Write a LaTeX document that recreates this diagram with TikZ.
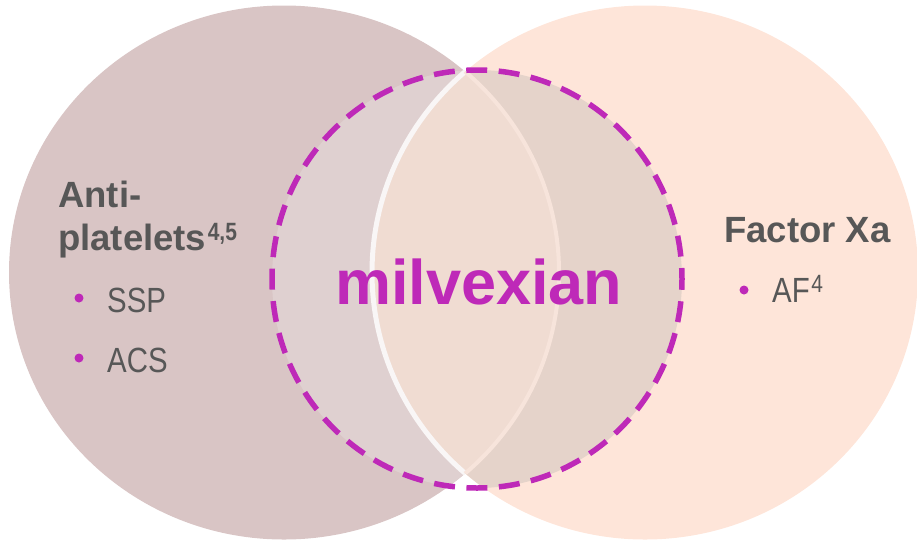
\documentclass[tikz,border=0pt]{standalone}
\usepackage{fontspec}
\setmainfont{Liberation Sans}
\newfontfamily\narrowsans[FakeStretch=0.84]{Liberation Sans}
\definecolor{leftfill}{HTML}{D9C5C5}
\definecolor{rightfill}{HTML}{FEE5D9}
\definecolor{lensfill}{HTML}{F0DCD2}
\definecolor{dashleft}{HTML}{DFD0D0}
\definecolor{dashright}{HTML}{E5D3CA}
\definecolor{lensedgeL}{HTML}{F9F6F6}
\definecolor{lensedgeR}{HTML}{F7E4DB}
\definecolor{magentaink}{RGB}{190,41,184}
\definecolor{textgray}{HTML}{575757}
\tikzset{
  head/.style={inner sep=0pt, anchor=base west, text=textgray,
    font=\fontsize{36.5}{36}\selectfont\bfseries},
  item/.style={inner sep=0pt, anchor=base west, text=textgray,
    font=\fontsize{35}{35}\selectfont\narrowsans},
  dot/.style={circle, fill=magentaink, inner sep=0pt, minimum size=9pt},
  drugname/.style={inner sep=0pt, anchor=base west, text=magentaink,
    font=\fontsize{63}{63}\selectfont\bfseries},
  dashring/.style={draw=magentaink, line width=5.5pt, dash pattern=on 21pt off 11.5pt, dash phase=10pt}
}
\newcommand{\supnum}[1]{\hspace{1.5pt}\raisebox{10pt}{\fontsize{25}{25}\selectfont\narrowsans #1}}
\begin{document}
\begin{tikzpicture}[x=1pt, y=-1pt]
\useasboundingbox (0,0) rectangle (917,539);
% the two sets
\def\leftset{(284,272.5) ellipse [x radius=275pt, y radius=267pt]}
\def\rightset{(645,272.5) ellipse [x radius=273pt, y radius=267pt]}
\def\ring{(477,279) ellipse [x radius=205pt, y radius=209pt]}
\fill[leftfill] \leftset;
\fill[rightfill] \rightset;
% shading of the ring interior
\begin{scope}
  \clip \ring;
  \fill[dashleft] \leftset;
  \fill[dashright] \rightset;
\end{scope}
% overlap lens
\begin{scope}
  \clip \leftset;
  \fill[lensfill] \rightset;
  \draw[lensedgeL, line width=5pt] \rightset;
\end{scope}
\begin{scope}
  \clip \rightset;
  \draw[lensedgeR, line width=4pt] \leftset;
\end{scope}
% dashed ring
\draw[dashring] \ring;
% left set labels
\node[head] (anti) at (58,207) {Anti-};
\node[head] (plat) at (58,250) {platelets\supnum{4,5}};
\node[dot] (d1) at (79,298) {};
\node[item] (ssp) at (107,312) {SSP};
\node[dot] (d2) at (79,358) {};
\node[item] (acs) at (107,372) {ACS};
% right set labels
\node[head] (fxa) at (724,242) {Factor Xa};
\node[dot] (d3) at (744,290) {};
\node[item] (af) at (772,302) {AF\supnum{4}};
% centre
\node[drugname] (drug) at (335,304) {milvexian};
\end{tikzpicture}
\end{document}
